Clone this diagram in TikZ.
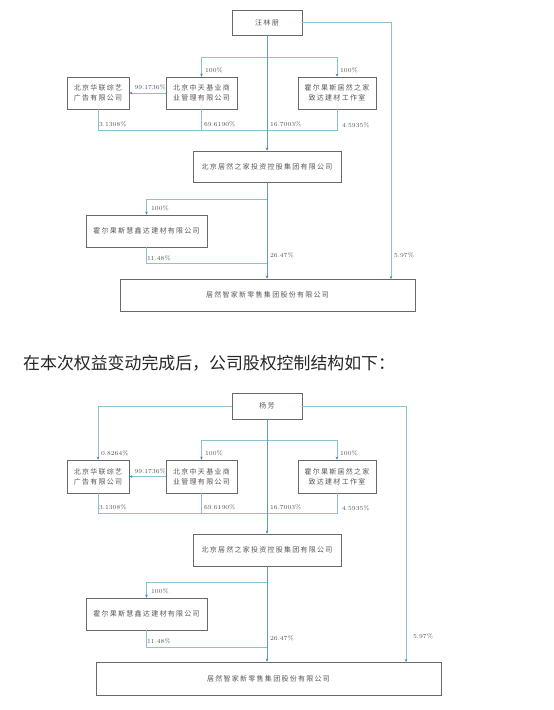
\documentclass[tikz,border=0pt]{standalone}
\usepackage{fontspec}
\newfontfamily\cjk{Noto Sans CJK SC}
\newfontfamily\cjkbox[LetterSpace=18]{Noto Sans CJK SC}
\usetikzlibrary{arrows.meta}
\definecolor{boxgray}{RGB}{105,105,105}
\definecolor{txtgray}{RGB}{85,85,85}
\definecolor{linkblue}{RGB}{140,192,212}
\definecolor{mainblue}{RGB}{95,155,200}
\definecolor{tipblue}{RGB}{70,130,185}
\tikzset{
  entbox/.style={draw=boxgray, line width=0.7pt, text=txtgray, align=center, inner sep=0pt,
    font=\cjkbox\fontsize{7}{10}\selectfont},
  link/.style={draw=linkblue, line width=0.6pt},
  linkarr/.style={link, -{Stealth[length=3pt,width=2.6pt,color=tipblue]}},
  mainarr/.style={draw=mainblue, line width=0.7pt, -{Stealth[length=3pt,width=2.6pt,color=tipblue]}},
  pct/.style={anchor=west, inner sep=0pt, text=txtgray, font=\fontsize{6.2}{7}\selectfont}
}
\begin{document}
\begin{tikzpicture}[x=1pt,y=-1pt]
    \useasboundingbox (0,0) rectangle (554,710);

    % Draw the boxes of the first chart
    \node[entbox, minimum width=70, minimum height=25] (wlp) at (267,22.5) {汪林朋};
    \node[entbox, minimum width=62, minimum height=32] (hla) at (98,93) {北京华联综艺\\广告有限公司};
    \node[entbox, minimum width=71, minimum height=32] (zta) at (201.5,93) {北京中天基业商\\业管理有限公司};
    \node[entbox, minimum width=78, minimum height=32] (zda) at (337,93) {霍尔果斯居然之家\\致达建材工作室};
    \node[entbox, minimum width=148, minimum height=31] (jra) at (267,166.5) {北京居然之家投资控股集团有限公司};
    \node[entbox, minimum width=121, minimum height=32] (hxa) at (146.5,231) {霍尔果斯慧鑫达建材有限公司};
    \node[entbox, minimum width=295, minimum height=32] (fna) at (267.5,295) {居然智家新零售集团股份有限公司};

    % Connectors of the first chart
    \coordinate (ra) at (391,279);
    \coordinate (sa) at (267,57);
    \coordinate (ma) at (267,130);
    \coordinate (sb) at (267,199);
    \coordinate (mb) at (267,263);
    \draw[linkarr] (wlp.east) -| (ra);
    \draw[linkarr] (sa) -| (zta.north);
    \draw[linkarr] (sa) -| (zda.north);
    \draw[linkarr] (zta.west) -- (hla.east);
    \draw[link] (hla.south) |- (ma);
    \draw[link] (zta.south) |- (ma);
    \draw[link] (zda.south) |- (ma);
    \draw[mainarr] (wlp.south) -- (jra.north);
    \draw[linkarr] (sb) -| (hxa.north);
    \draw[link] (hxa.south) |- (mb);
    \draw[mainarr] (jra.south) -- (jra.south |- fna.north);

    % Share labels of the first chart
    \node[pct] at (205,70) {100\%};
    \node[pct] at (340,70) {100\%};
    \node[pct] at (134.5,87) {99.1736\%};
    \node[pct] at (99,124) {3.1308\%};
    \node[pct] at (204,124) {69.6190\%};
    \node[pct] at (270,124) {16.7003\%};
    \node[pct] at (342,125) {4.5935\%};
    \node[pct] at (151,208) {100\%};
    \node[pct] at (147,258) {11.48\%};
    \node[pct] at (270,255) {26.47\%};
    \node[pct] at (394,255) {5.97\%};

    % Heading between the charts
    \node[anchor=west, inner sep=0pt, text=black!85, font=\cjk\fontsize{16.9}{19}\selectfont] (head) at (23,363)
      {在本次权益变动完成后，公司股权控制结构如下：};

    % Draw the boxes of the second chart
    \node[entbox, minimum width=70, minimum height=26] (yf) at (267,406) {杨芳};
    \node[entbox, minimum width=62, minimum height=33] (hlb) at (98,476.5) {北京华联综艺\\广告有限公司};
    \node[entbox, minimum width=71, minimum height=33] (ztb) at (201.5,476.5) {北京中天基业商\\业管理有限公司};
    \node[entbox, minimum width=78, minimum height=33] (zdb) at (337,476.5) {霍尔果斯居然之家\\致达建材工作室};
    \node[entbox, minimum width=148, minimum height=32] (jrb) at (267,550) {北京居然之家投资控股集团有限公司};
    \node[entbox, minimum width=121, minimum height=32] (hxb) at (146.5,614) {霍尔果斯慧鑫达建材有限公司};
    \node[entbox, minimum width=345, minimum height=33] (fnb) at (268.5,678.5) {居然智家新零售集团股份有限公司};

    % Connectors of the second chart
    \coordinate (rb) at (406,662);
    \coordinate (sc) at (267,440);
    \coordinate (mc) at (267,513);
    \coordinate (sd) at (267,582);
    \coordinate (md) at (267,647);
    \draw[linkarr] (yf.east) -| (rb);
    \draw[linkarr] (yf.west) -| (hlb.north);
    \draw[linkarr] (sc) -| (ztb.north);
    \draw[linkarr] (sc) -| (zdb.north);
    \draw[linkarr] (ztb.west) -- (hlb.east);
    \draw[link] (hlb.south) |- (mc);
    \draw[link] (ztb.south) |- (mc);
    \draw[link] (zdb.south) |- (mc);
    \draw[mainarr] (yf.south) -- (jrb.north);
    \draw[linkarr] (sd) -| (hxb.north);
    \draw[link] (hxb.south) |- (md);
    \draw[mainarr] (jrb.south) -- (jrb.south |- fnb.north);

    % Share labels of the second chart
    \node[pct] at (101,453) {0.8264\%};
    \node[pct] at (205,453) {100\%};
    \node[pct] at (340,453) {100\%};
    \node[pct] at (134.5,471) {99.1736\%};
    \node[pct] at (99,507) {3.1308\%};
    \node[pct] at (204,507) {69.6190\%};
    \node[pct] at (270,507) {16.7003\%};
    \node[pct] at (342,508) {4.5935\%};
    \node[pct] at (151,591) {100\%};
    \node[pct] at (147,641) {11.48\%};
    \node[pct] at (270,638) {26.47\%};
    \node[pct] at (413,636) {5.97\%};
\end{tikzpicture}
\end{document}
